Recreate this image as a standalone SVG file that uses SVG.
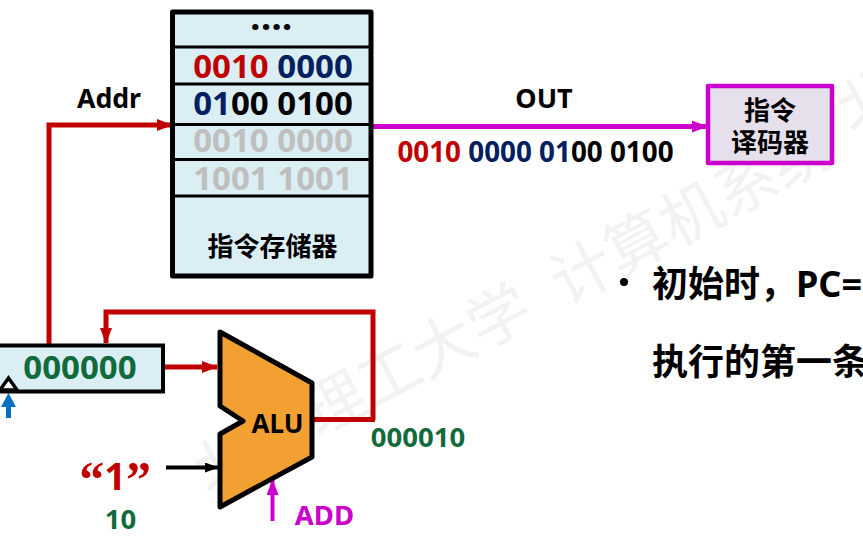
<svg xmlns="http://www.w3.org/2000/svg" width="863" height="543" viewBox="0 0 863 543">
<style>
text{font-family:"Noto Sans","Noto Sans CJK SC",sans-serif;font-weight:700}
.wm{font-size:62px;fill:#f2f2f2;font-weight:400}
.mem{font-size:33px;text-anchor:middle}
.r{fill:#c00000}.b{fill:#002060}.k{fill:#000}.g{fill:#bfbfbf}.gr{fill:#116a3c}.m{fill:#cc00cc}
.cell{fill:none;stroke:#000;stroke-width:3}
.wire{fill:none;stroke-width:5}
.red{stroke:#c00000}.mag{stroke:#cc00cc}
</style>
<defs>
<marker id="ar" markerUnits="userSpaceOnUse" markerWidth="16" markerHeight="12" refX="15" refY="6" orient="auto"><path d="M0 0L16 6L0 12Z" fill="#c00000"/></marker>
<marker id="am" markerUnits="userSpaceOnUse" markerWidth="16" markerHeight="12" refX="15" refY="6" orient="auto"><path d="M0 0L16 6L0 12Z" fill="#cc00cc"/></marker>
<marker id="ak" markerUnits="userSpaceOnUse" markerWidth="14" markerHeight="10" refX="13" refY="5" orient="auto"><path d="M0 0L14 5L0 10Z" fill="#000"/></marker>
</defs>
<rect width="863" height="543" fill="#fff"/>
<g id="watermark"><text class="wm" transform="translate(208 496) rotate(-28)" xml:space="preserve">北京理工大学  计算机系统</text><text class="wm" transform="translate(852 135) rotate(-28)">北</text></g>
<g id="connectors">
<path class="wire red" marker-end="url(#ar)" d="M49 345V125H172"/>
<path class="wire mag" marker-end="url(#am)" d="M373 126.500H707"/>
<path class="wire red" marker-end="url(#ar)" d="M373 420V312H106V343"/>
<path class="wire red" d="M312 419.500H375"/>
<path class="wire red" marker-end="url(#ar)" d="M164 367H217"/>
<path fill="none" stroke="#000" stroke-width="4" marker-end="url(#ak)" d="M166 467.500H218"/>
<path fill="none" stroke="#cc00cc" stroke-width="4" marker-end="url(#am)" d="M272.500 521V480"/>
<path fill="none" stroke="#0070c0" stroke-width="5" d="M8.500 418V402"/>
<path fill="#0070c0" d="M8.500 393L16 407H1Z"/>
</g>
<g id="memory">
<rect x="172.500" y="12" width="198.500" height="264" fill="#daeef3" stroke="#000" stroke-width="5" stroke-linejoin="round"/>
<path class="cell" d="M173 47H371M173 84H371M173 124.500H371M173 159.500H371M173 196H371"/>
<text class="k" x="271.500" y="30" font-size="36" text-anchor="middle" letter-spacing="0.500">....</text>
<text class="mem" x="273" y="78"><tspan class="r">0010</tspan> <tspan class="b">0000</tspan></text>
<text class="mem" x="273" y="115"><tspan class="b">01</tspan><tspan class="k">00 0100</tspan></text>
<text class="mem g" x="273" y="152">0010 0000</text>
<text class="mem g" x="273" y="190">1001 1001</text>
<text class="k" x="272.500" y="256" font-size="26" text-anchor="middle">指令存储器</text>
</g>
<g id="decoder">
<rect x="708" y="86" width="124" height="77" fill="#e6e0ec" stroke="#cc00cc" stroke-width="4.500" stroke-linejoin="round"/>
<text class="k" x="770" y="120" font-size="26" text-anchor="middle">指令</text>
<text class="k" x="770" y="152" font-size="26" text-anchor="middle">译码器</text>
</g>
<g id="pc">
<rect x="-4" y="345.500" width="167" height="46" fill="#daeef3" stroke="#000" stroke-width="4"/>
<text class="gr" x="80" y="379" font-size="33" text-anchor="middle">000000</text>
<path d="M0 390L8.500 378L17 390Z" fill="#fff" stroke="#000" stroke-width="3.500"/>
</g>
<g id="alu">
<path d="M220 332L312 383V457L220 507V434L243 421L220 406Z" fill="#f3a032" stroke="#000" stroke-width="5" stroke-linejoin="round"/>
<text class="k" x="277.500" y="433" font-size="26" text-anchor="middle">ALU</text>
</g>
<g id="labels">
<text class="k" x="109" y="108" font-size="26.700" text-anchor="middle">Addr</text>
<text class="k" x="544" y="108" font-size="27" text-anchor="middle">OUT</text>
<text x="535.500" y="162" font-size="27.800" text-anchor="middle"><tspan class="r">0010</tspan> <tspan class="b">0000</tspan> <tspan class="b">01</tspan><tspan class="k">00 0100</tspan></text>
<text class="gr" x="418" y="447" font-size="27.500" text-anchor="middle">000010</text>
<text class="r" x="115" y="490" font-size="38" text-anchor="middle"><tspan font-family="Liberation Serif" font-size="50" dy="6">“</tspan><tspan dy="-6">1</tspan><tspan font-family="Liberation Serif" font-size="50" dy="6">”</tspan></text>
<text class="gr" x="120.500" y="529" font-size="27.500" text-anchor="middle">10</text>
<text class="m" x="324.500" y="525" font-size="27.500" text-anchor="middle">ADD</text>
<circle cx="624" cy="282" r="4" fill="#000"/>
<text class="k" x="652" y="297" font-size="36">初始时，PC=</text>
<text class="k" x="652" y="375" font-size="36">执行的第一条</text>
</g>
</svg>
